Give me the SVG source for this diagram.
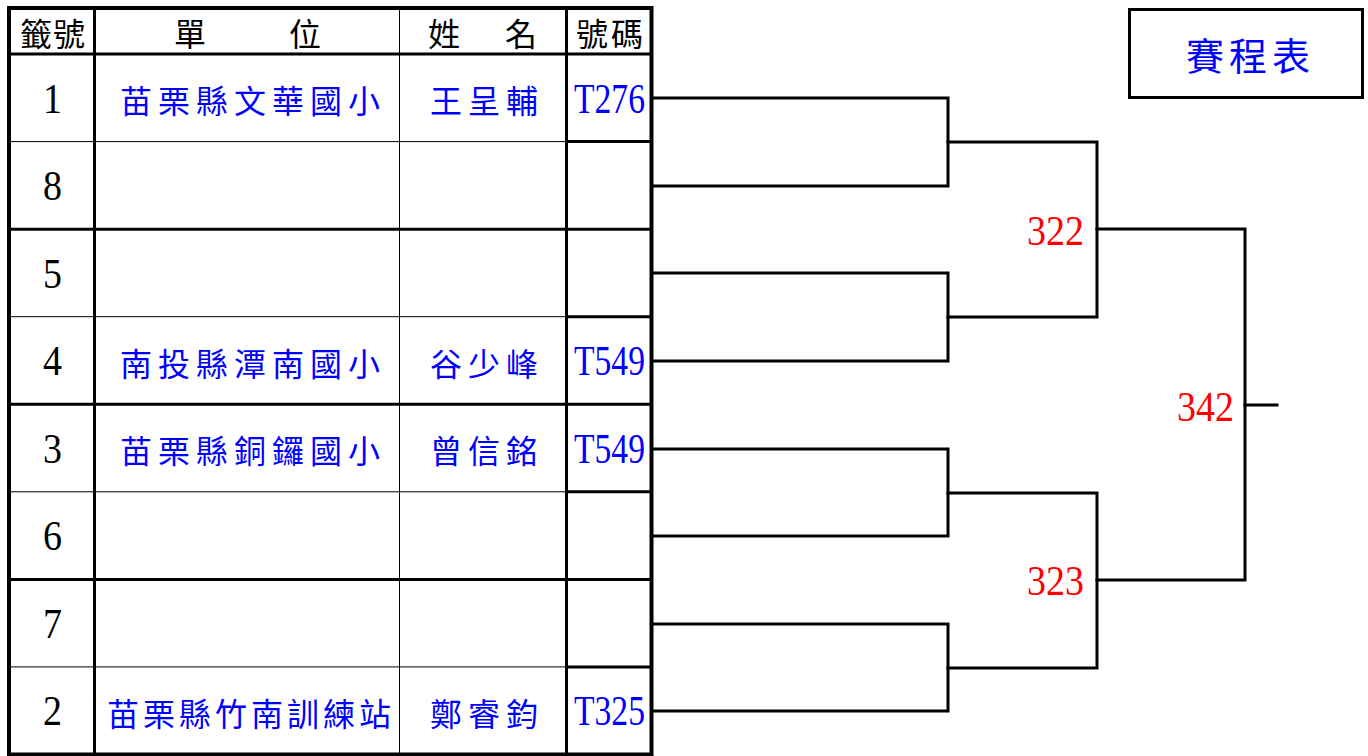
<svg xmlns="http://www.w3.org/2000/svg" width="1368" height="756" viewBox="0 0 1368 756">
<style>
.bg{fill:#fff}
.thick{stroke:#000;stroke-width:3;fill:none}
.border{stroke:#000;stroke-width:4;fill:none}
.thin{stroke:#000;stroke-width:1;fill:none}
.br{stroke:#000;stroke-width:3;fill:none;stroke-linecap:square}
.hd{font-family:"Noto Sans CJK TC","Noto Sans CJK SC",sans-serif;font-size:32px;fill:#000}
.cjk{font-family:"Noto Sans CJK TC","Noto Sans CJK SC",sans-serif;font-size:32px;fill:#0000ff;letter-spacing:6px}
.seed{font-family:"Liberation Serif",serif;font-size:42px;fill:#000;text-anchor:middle}
.code{font-family:"Liberation Serif",serif;font-size:42px;fill:#0000ff}
.match{font-family:"Liberation Serif",serif;font-size:42px;fill:#ff0000}
.title{font-family:"Noto Sans CJK TC","Noto Sans CJK SC",sans-serif;font-size:38px;fill:#0000ff;letter-spacing:5px}
</style>
<rect class="bg" x="0" y="0" width="1368" height="756"/>

<g id="table">
  <g id="grid">
    <line class="thin" x1="9" y1="141.6" x2="566" y2="141.6"/>
    <line class="thin" x1="9" y1="316.7" x2="566" y2="316.7"/>
    <line class="thin" x1="9" y1="491.8" x2="566" y2="491.8"/>
    <line class="thin" x1="9" y1="666.9" x2="566" y2="666.9"/>
    <line class="thick" x1="566" y1="141.6" x2="651" y2="141.6"/>
    <line class="thick" x1="566" y1="316.7" x2="651" y2="316.7"/>
    <line class="thick" x1="566" y1="491.8" x2="651" y2="491.8"/>
    <line class="thick" x1="566" y1="666.9" x2="651" y2="666.9"/>
    <line class="thick" x1="9" y1="229.2" x2="651" y2="229.2"/>
    <line class="thick" x1="9" y1="404.3" x2="651" y2="404.3"/>
    <line class="thick" x1="9" y1="579.4" x2="651" y2="579.4"/>
    <line class="thick" x1="9" y1="54" x2="651" y2="54"/>
    <line class="thick" x1="94.5" y1="8" x2="94.5" y2="754.5"/>
    <line class="thin" x1="399.5" y1="8" x2="399.5" y2="754.5"/>
    <line class="thick" x1="566.5" y1="8" x2="566.5" y2="754.5"/>
    <rect class="border" x="9" y="8" width="642.5" height="746.5"/>
  </g>
  <g id="header">
    <text class="hd" x="20" y="46" style="letter-spacing:1px">籤號</text>
    <text class="hd" y="46"><tspan x="174">單</tspan><tspan x="289">位</tspan></text>
    <text class="hd" y="46"><tspan x="428">姓</tspan><tspan x="505">名</tspan></text>
    <text class="hd" x="576" y="46" style="letter-spacing:3px">號碼</text>
  </g>
  <g id="row-1">
    <text class="seed" x="52.5" y="112.5" textLength="19" lengthAdjust="spacingAndGlyphs">1</text>
    <text class="cjk" x="120" y="113">苗栗縣文華國小</text>
    <text class="cjk" x="430" y="113">王呈輔</text>
    <text class="code" x="574" y="112.5" textLength="71" lengthAdjust="spacingAndGlyphs">T276</text>
  </g>
  <g id="row-8">
    <text class="seed" x="52.5" y="200" textLength="19" lengthAdjust="spacingAndGlyphs">8</text>
  </g>
  <g id="row-5">
    <text class="seed" x="52.5" y="287.5" textLength="19" lengthAdjust="spacingAndGlyphs">5</text>
  </g>
  <g id="row-4">
    <text class="seed" x="52.5" y="375" textLength="19" lengthAdjust="spacingAndGlyphs">4</text>
    <text class="cjk" x="120" y="375.5">南投縣潭南國小</text>
    <text class="cjk" x="430" y="375.5">谷少峰</text>
    <text class="code" x="574" y="375" textLength="71" lengthAdjust="spacingAndGlyphs">T549</text>
  </g>
  <g id="row-3">
    <text class="seed" x="52.5" y="462.5" textLength="19" lengthAdjust="spacingAndGlyphs">3</text>
    <text class="cjk" x="120" y="463">苗栗縣銅鑼國小</text>
    <text class="cjk" x="430" y="463">曾信銘</text>
    <text class="code" x="574" y="462.5" textLength="71" lengthAdjust="spacingAndGlyphs">T549</text>
  </g>
  <g id="row-6">
    <text class="seed" x="52.5" y="550" textLength="19" lengthAdjust="spacingAndGlyphs">6</text>
  </g>
  <g id="row-7">
    <text class="seed" x="52.5" y="637.5" textLength="19" lengthAdjust="spacingAndGlyphs">7</text>
  </g>
  <g id="row-2">
    <text class="seed" x="52.5" y="725" textLength="19" lengthAdjust="spacingAndGlyphs">2</text>
    <text class="cjk" x="107" y="725.5" style="letter-spacing:4px">苗栗縣竹南訓練站</text>
    <text class="cjk" x="430" y="725.5">鄭睿鈞</text>
    <text class="code" x="574" y="725" textLength="71" lengthAdjust="spacingAndGlyphs">T325</text>
  </g>
</g>

<g id="connectors">
  <polyline class="br" points="653,98 948,98 948,186 653,186"/>
  <polyline class="br" points="653,273 948,273 948,361 653,361"/>
  <polyline class="br" points="653,449 948,449 948,536 653,536"/>
  <polyline class="br" points="653,624 948,624 948,711 653,711"/>
  <polyline class="br" points="948,142 1097,142 1097,317 948,317"/>
  <polyline class="br" points="948,493 1097,493 1097,668 948,668"/>
  <polyline class="br" points="1097,229 1245,229 1245,580 1097,580"/>
  <line class="br" x1="1245" y1="405" x2="1277" y2="405"/>
</g>

<g id="match-322">
  <text class="match" x="1027" y="245" textLength="57" lengthAdjust="spacingAndGlyphs">322</text>
</g>
<g id="match-323">
  <text class="match" x="1027" y="595" textLength="57" lengthAdjust="spacingAndGlyphs">323</text>
</g>
<g id="match-342">
  <text class="match" x="1177" y="421" textLength="57" lengthAdjust="spacingAndGlyphs">342</text>
</g>

<g id="title">
  <rect x="1129.5" y="9.5" width="233" height="88" fill="none" stroke="#000" stroke-width="3"/>
  <text class="title" x="1186" y="70">賽程表</text>
</g>
</svg>
